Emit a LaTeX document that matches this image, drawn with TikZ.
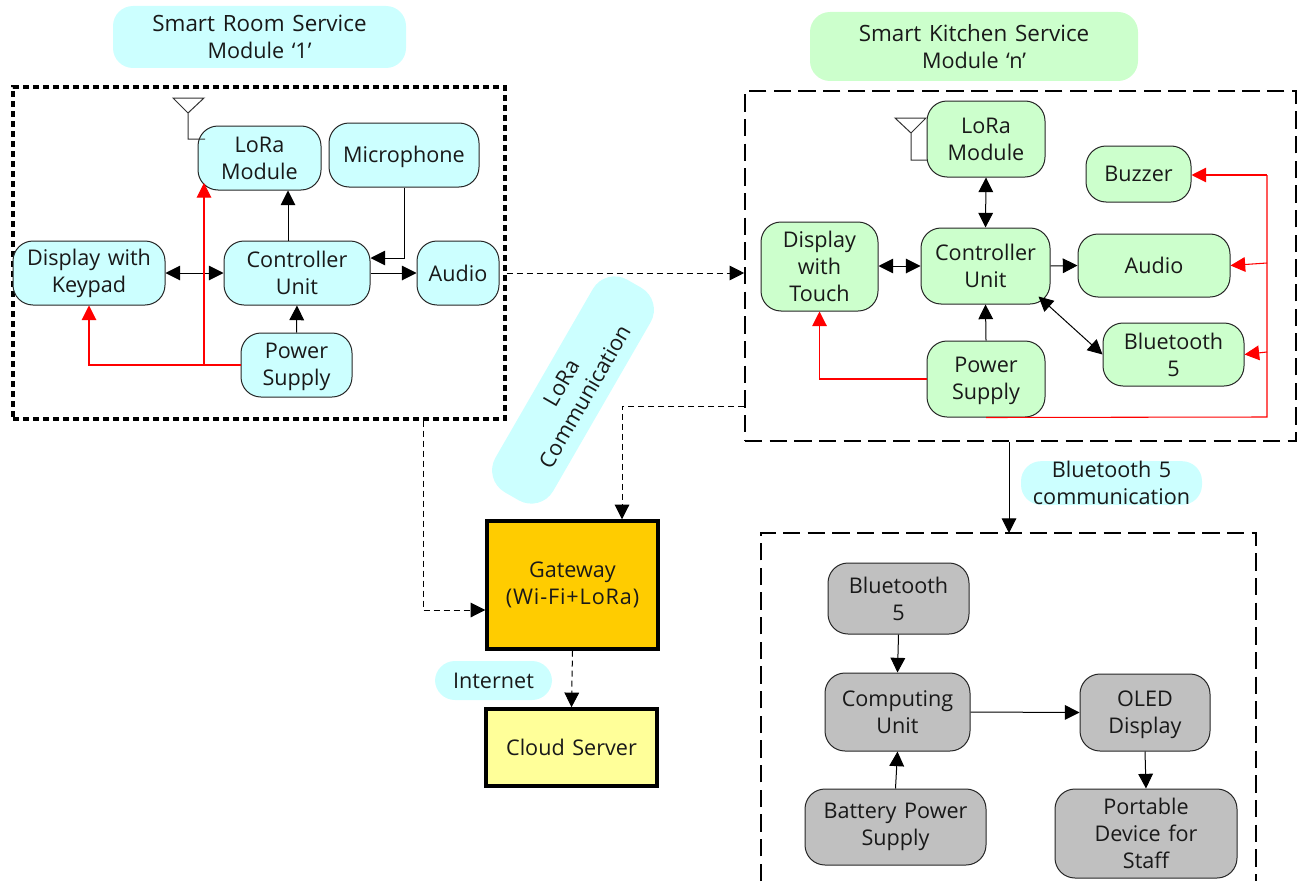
\documentclass[tikz,border=0pt]{standalone}
\usepackage{fontspec}
\setmainfont[WordSpace=1.35]{Open Sans}
\usetikzlibrary{arrows.meta}
\def\px{0.75pt}
\newcommand\Bx[7]{\node[#1,minimum width={(#5-#3)*0.75pt},minimum height={(#6-#4)*0.75pt}] (#2) at ({(#3+#5)/2},{(#4+#6)/2}) {#7};}
\newcommand\dn[1]{\raisebox{-1.5pt}[\height][\depth]{#1}}
\definecolor{cy}{HTML}{CCFFFF}
\definecolor{gn}{HTML}{CCFFCC}
\definecolor{gy}{HTML}{C0C0C0}
\definecolor{gw}{HTML}{FFCC00}
\definecolor{cs}{HTML}{FFFF99}
\definecolor{rd}{HTML}{FF0000}
\tikzset{
 x=0.75pt,y=-0.75pt,
 every node/.style={inner sep=0pt,align=center,font=\fontsize{16.2}{20.25}\selectfont,text=black!90},
 rbox/.style={draw=black!85,line width=0.75pt,rounded corners=15pt},
 cbox/.style={rbox,fill=cy},
 gbox/.style={rbox,fill=gn},
 ybox/.style={rbox,fill=gy},
 pill/.style={rounded corners=15pt},
 sqbox/.style={draw=black,line width=2.6pt},
 roomframe/.style={draw=black,line width=2.4pt,dash pattern=on 4.5pt off 3pt},
 kitframe/.style={draw=black,line width=1.2pt,dash pattern=on 13pt off 5.5pt},
 conn/.style={draw=black,line width=0.75pt,-{Triangle[length=11pt,width=11pt]}},
 bi/.style={draw=black,line width=0.75pt,{Triangle[length=11pt,width=11pt]}-{Triangle[length=11pt,width=11pt]}},
 redarrow/.style={draw=rd,line width=0.8pt,-{Triangle[length=11pt,width=11pt,fill=rd]}},
 redline/.style={draw=rd,line width=0.8pt},
 dconn/.style={conn,dash pattern=on 4.5pt off 3pt},
 ant/.style={draw=black!80,line width=0.75pt},
}
\begin{document}
\begin{tikzpicture}
\useasboundingbox (0,0) rectangle (1298,881);
% labels
\Bx{pill,fill=cy}{lroom}{113}{6}{406}{68}{\fontsize{16.8}{20.25}\selectfont Smart Room Service\\Module `1'}
\Bx{pill,fill=gn}{lkit}{810}{12}{1138}{81}{\fontsize{16.8}{20.25}\selectfont Smart Kitchen Service\\Module `n'}
\Bx{pill,fill=cy}{lbt}{1021}{463}{1202}{503}{Bluetooth 5\\communication}
\Bx{pill,fill=cy}{lnet}{435}{661}{552}{700}{Internet}
\node[rounded corners=19pt,fill=cy,rotate=60,minimum width=184pt,minimum height=50pt] (llora) at (573,390) {LoRa\\Communication};
% frames
\Bx{roomframe}{room}{13}{87}{505}{419}{}
\Bx{kitframe}{kit}{745}{91}{1296}{441}{}
\coordinate (pa) at (761,881);
\coordinate (pb) at (761,533);
\coordinate (pc) at (1256,533);
\coordinate (pd) at (1256,881);
\draw[kitframe] (pa)--(pb)--(pc)--(pd);
% room
\Bx{cbox}{rlora}{198}{126}{321}{190}{LoRa\\Module}
\Bx{cbox}{rmic}{329}{123}{479}{187}{\dn{Microphone}}
\Bx{cbox}{rdisp}{13}{241}{165}{305}{Display with\\Keypad}
\Bx{cbox}{rctl}{224}{241}{370}{305}{Controller\\Unit}
\Bx{cbox}{raud}{417}{241}{499}{305}{Audio}
\Bx{cbox}{rpow}{241}{333}{352}{397}{\dn{Power}\\\dn{Supply}}
\coordinate (ra1) at (173,98);\coordinate (ra2) at (204,98);\coordinate (ra3) at (188,113);\coordinate (ra4) at (188,139);\coordinate (ra5) at (205,139);
\draw[ant] (ra1)--(ra2)--(ra3)--cycle (ra3)--(ra4)--(ra5);
\draw[conn] ([xshift=-9*\px]rctl.north)--([xshift=28.5*\px]rlora.south);
\draw[conn] (rmic.south)|-([yshift=15*\px]rctl.east);
\draw[bi] (rdisp.east)--(rctl.west);
\draw[conn] (rctl.east)--(raud.west);
\draw[conn] (rpow.north)--(rctl.south);
\coordinate (rj) at (204,365);
\coordinate (rt) at (204,183);
\draw[redarrow] (rpow.west)-|(rdisp.south);
\draw[redarrow] (rj)--(rt);
% kitchen
\Bx{gbox}{klora}{927}{101}{1045}{177}{LoRa\\Module}
\Bx{gbox}{kbuz}{1086}{146}{1191}{202}{Buzzer}
\Bx{gbox}{kdisp}{761}{222}{878}{311}{Display\\with\\Touch}
\Bx{gbox}{kctl}{921}{228}{1050}{304}{Controller\\Unit}
\Bx{gbox}{kaud}{1078}{234}{1230}{297}{Audio}
\Bx{gbox}{kbt}{1103}{323}{1244}{386}{Bluetooth\\5}
\Bx{gbox}{kpow}{927}{341}{1045}{417}{\dn{Power}\\\dn{Supply}}
\coordinate (ka1) at (895,118);\coordinate (ka2) at (926,118);\coordinate (ka3) at (911,133);\coordinate (ka4) at (911,160);\coordinate (ka5) at (927,160);
\draw[ant] (ka1)--(ka2)--(ka3)--cycle (ka3)--(ka4)--(ka5);
\draw[bi] (klora.south)--(kctl.north);
\draw[bi] (kdisp.east |- kctl.west)--(kctl.west);
\draw[conn] (kctl.east)--(kaud.west);
\coordinate (kse) at ([xshift=-12*\px,yshift=8*\px]kctl.south east);
\draw[bi] (kse)--(kbt.west);
\draw[conn] (kpow.north)--(kctl.south);
\coordinate (kr) at (1267,175);
\coordinate (kr2) at (1267,263);
\coordinate (kr3) at (1267,352);
\coordinate (kb) at (1267,417);
\draw[redline] (kpow.south)--(kb)--(kr);
\draw[redarrow] (kr)--(kbuz.east |- kr);
\draw[redarrow] (kr2)--(kaud.east);
\draw[redarrow] (kr3)--(kbt.east);
\draw[redarrow] (kpow.west)-|(kdisp.south);
% centre
\Bx{sqbox,fill=gw}{gate}{487}{521}{658}{649}{Gateway\\\addfontfeature{LetterSpace=4}(Wi-Fi+LoRa)}
\Bx{sqbox,fill=cs}{cloud}{486}{709}{657}{786}{Cloud Server}
\draw[dconn] (room.east |- raud.east)--(kit.west |- raud.east);
\coordinate (g1) at (622,406);
\draw[dconn] (kit.west |- g1)--(g1)--(g1 |- gate.north);
\coordinate (g2) at (423,610);
\draw[dconn] (g2 |- room.south)--(g2)--(gate.west |- g2);
\draw[dconn] (gate.south)--(cloud.north);
% bottom
\draw[conn] (kit.south -| 1009,0)--(pb -| 1009,0);
\Bx{ybox}{bbt}{828}{563}{969}{634}{Bluetooth\\5}
\Bx{ybox}{bcomp}{825}{673}{970}{751}{Computing\\Unit}
\Bx{ybox}{boled}{1080}{674}{1210}{751}{\dn{OLED}\\\dn{Display}}
\Bx{ybox}{bbat}{805}{789}{986}{865}{Battery Power\\Supply}
\Bx{ybox}{bport}{1055}{789}{1237}{878}{Portable\\Device for\\Staff}
\draw[conn] (bbt.south)--(bcomp.north);
\draw[conn] (bbat.north)--(bcomp.south);
\draw[conn] (bcomp.east)--(boled.west);
\draw[conn] (boled.south)--(bport.north);
\end{tikzpicture}
\end{document}
